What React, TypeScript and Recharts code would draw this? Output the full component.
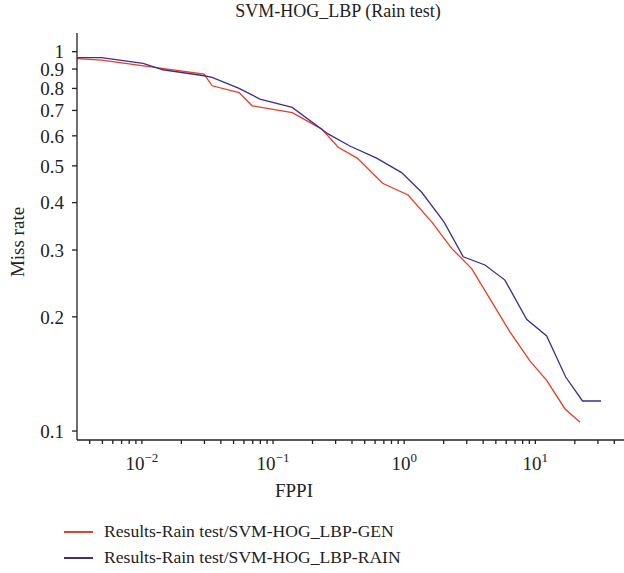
import { Line, LineChart, XAxis, YAxis } from "recharts";

const genFppi = [0.00321, 0.00492, 0.0298, 0.0343, 0.0551, 0.0693, 0.14, 0.234, 0.314, 0.438, 0.684, 1.07, 1.62, 2.3, 3.27, 6.4, 9.09, 12.2, 16.8, 21.9];
const genMiss = [0.959, 0.95, 0.873, 0.813, 0.78, 0.72, 0.691, 0.626, 0.56, 0.524, 0.45, 0.419, 0.356, 0.303, 0.268, 0.1825, 0.153, 0.136, 0.1145, 0.1055];

const rainFppi = [0.00321, 0.00492, 0.0102, 0.0145, 0.0298, 0.0343, 0.0551, 0.0793, 0.14, 0.263, 0.385, 0.616, 0.955, 1.36, 2.01, 2.82, 4.13, 5.86, 8.58, 12.2, 17.0, 22.9, 31.7];
const rainMiss = [0.965, 0.965, 0.931, 0.896, 0.864, 0.855, 0.8, 0.75, 0.713, 0.607, 0.564, 0.524, 0.48, 0.426, 0.356, 0.288, 0.274, 0.25, 0.197, 0.178, 0.139, 0.12, 0.12];

const xMajor = [0.01, 0.1, 1, 10];
const xMinor = [0.004, 0.005, 0.006, 0.007, 0.008, 0.009, 0.02, 0.03, 0.04, 0.05, 0.06, 0.07, 0.08, 0.09, 0.2, 0.3, 0.4, 0.5, 0.6, 0.7, 0.8, 0.9, 2, 3, 4, 5, 6, 7, 8, 9, 20, 30, 40];
const yTicks = [0.1, 0.2, 0.3, 0.4, 0.5, 0.6, 0.7, 0.8, 0.9, 1];

const genData = genFppi.map((x, i) => ({ x, y: genMiss[i] }));
const rainData = rainFppi.map((x, i) => ({ x, y: rainMiss[i] }));

const RED = "#EE3B24";
const BLUE = "#3B2E8F";
const INK = "#222";
const FONT = "'Liberation Serif', 'DejaVu Serif', serif";

function XTick(props: any) {
  const { x, y, payload } = props;
  const v = payload.value;
  if (!xMajor.includes(v)) return null;
  const exp = Math.round(Math.log10(v));
  return (
    <text x={x} y={y + 24} textAnchor="middle" fill={INK} fontSize={19} fontFamily={FONT}>
      10
      <tspan dy={-8} fontSize={13}>
        {exp < 0 ? "\u2212" + Math.abs(exp) : String(exp)}
      </tspan>
    </text>
  );
}

export default function App() {
  return (
    <div
      style={{
        position: "absolute",
        left: 0,
        top: 0,
        width: 624,
        height: 573,
        overflow: "hidden",
        fontFamily: FONT,
        color: INK,
      }}
    >
      <LineChart
        width={640}
        height={500}
        margin={{ top: 33, right: 13, left: 0, bottom: 0 }}
      >
        <XAxis
          dataKey="x"
          type="number"
          scale="log"
          domain={[0.0032, 50]}
          allowDataOverflow
          ticks={[...xMajor, ...xMinor].sort((a, b) => a - b)}
          tick={<XTick />}
          tickSize={4}
          interval={0}
          height={60}
          stroke={INK}
          strokeWidth={1.3}
        />
        <XAxis
          xAxisId="top"
          orientation="top"
          type="number"
          scale="log"
          domain={[0.0032, 50]}
          allowDataOverflow
          tick={false}
          tickLine={false}
          height={0}
          stroke={INK}
          strokeWidth={1.3}
        />
        <YAxis
          dataKey="y"
          type="number"
          scale="log"
          domain={[0.0947, 1.12]}
          allowDataOverflow
          ticks={yTicks}
          interval={0}
          tickSize={5}
          tickMargin={8}
          width={77}
          stroke={INK}
          strokeWidth={1.3}
          tick={{ fill: INK, fontSize: 19, fontFamily: FONT }}
          tickFormatter={(v: number) => (v === 1 ? "1" : v.toFixed(1))}
        />
        <Line
          data={genData}
          dataKey="y"
          type="linear"
          stroke={RED}
          strokeWidth={1.3}
          dot={false}
          isAnimationActive={false}
        />
        <Line
          data={rainData}
          dataKey="y"
          type="linear"
          stroke={BLUE}
          strokeWidth={1.3}
          dot={false}
          isAnimationActive={false}
        />
      </LineChart>

      <div style={{ position: "absolute", left: 338, top: 1, transform: "translateX(-50%)", fontSize: 18, whiteSpace: "nowrap" }}>
        SVM-HOG_LBP (Rain test)
      </div>
      <div
        style={{
          position: "absolute",
          left: 18,
          top: 242,
          transform: "translate(-50%, -50%) rotate(-90deg)",
          fontSize: 19,
          whiteSpace: "nowrap",
        }}
      >
        Miss rate
      </div>
      <div style={{ position: "absolute", left: 294, top: 480, transform: "translateX(-50%)", fontSize: 19 }}>
        FPPI
      </div>

      {[
        { name: "Results-Rain test/SVM-HOG_LBP-GEN", color: RED, top: 521 },
        { name: "Results-Rain test/SVM-HOG_LBP-RAIN", color: BLUE, top: 547 },
      ].map((s) => (
        <div key={s.name} style={{ position: "absolute", left: 64, top: s.top, display: "flex", alignItems: "center", whiteSpace: "nowrap" }}>
          <span style={{ display: "inline-block", width: 29, height: 2, background: s.color, marginRight: 11 }} />
          <span style={{ fontSize: 17.6 }}>{s.name}</span>
        </div>
      ))}
    </div>
  );
}
